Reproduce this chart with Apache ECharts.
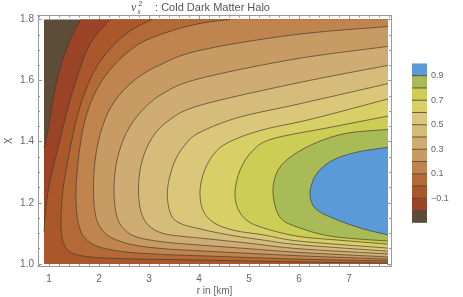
<!DOCTYPE html>
<html><head><meta charset="utf-8">
<script src="https://cdn.jsdelivr.net/npm/echarts@6/dist/echarts.min.js"></script>
<style>html,body{margin:0;padding:0;background:#fff}#c{width:463px;height:297px}</style>
</head><body><div id="c"></div>
<script>
// ---- data ----
const rRange = [0.9, 7.78];
const chiRange = [1.0, 1.8];
const levels = [-0.2, -0.1, 0.0, 0.1, 0.2, 0.3, 0.4, 0.5, 0.6, 0.7, 0.8, 0.9];
const bandColors = ['#5d4c38', '#9b4327', '#aa582b', '#b46a37', '#c0854f', '#c89a64', '#cfac73',
  '#d6bc7b', '#dbc77a', '#d8cf66', '#cbcd55', '#a9bb57', '#5a9ad8'];

const contourM02 = [[1.63,1.80],[1.47,1.75],[1.34,1.70],[1.22,1.64],[1.12,1.57],[1.03,1.49],[0.96,1.42],[0.90,1.38]];
const contourM01 = [[2.22,1.80],[1.82,1.72],[1.56,1.61],[1.36,1.50],[1.22,1.405],[1.09,1.32],[0.99,1.245],[0.93,1.17],[0.90,1.105]];
const contour00 = [[3.06,1.80],[2.6,1.76],[2.2,1.70],[1.9,1.63],[1.67,1.54],[1.5,1.44],[1.38,1.34],[1.28,1.245],[1.24,1.15],[1.26,1.09],[1.33,1.055],[1.5,1.033],[1.9,1.022],[2.6,1.017],[4.02,1.013],[6.0,1.007],[7.78,1.003]];
const contour01 = [[4.62,1.80],[4.02,1.787],[3.4,1.76],[2.8,1.72],[2.3,1.65],[1.95,1.57],[1.72,1.47],[1.6,1.36],[1.54,1.245],[1.56,1.16],[1.63,1.11],[1.75,1.08],[2.0,1.056],[2.5,1.04],[3.2,1.032],[4.02,1.027],[6.0,1.016],[7.78,1.01]];
const contour02 = [[7.78,1.777],[5.9,1.75],[4.02,1.699],[3.2,1.65],[2.7,1.60],[2.3,1.53],[2.07,1.45],[1.93,1.35],[1.89,1.245],[1.93,1.16],[2.05,1.115],[2.26,1.085],[2.7,1.062],[3.3,1.05],[4.02,1.043],[6.0,1.027],[7.78,1.016]];
const contour03 = [[7.78,1.712],[5.9,1.67],[4.02,1.607],[3.3,1.56],[2.85,1.50],[2.55,1.43],[2.36,1.34],[2.30,1.245],[2.35,1.16],[2.5,1.115],[2.76,1.088],[3.3,1.072],[4.02,1.062],[5.0,1.05],[6.0,1.038],[7.78,1.023]];
const contour04 = [[7.78,1.65],[5.9,1.59],[4.02,1.519],[3.4,1.47],[3.05,1.41],[2.85,1.33],[2.79,1.245],[2.84,1.17],[3.0,1.125],[3.28,1.1],[3.7,1.09],[4.02,1.085],[5.0,1.068],[6.0,1.05],[7.78,1.033]];
const contour05 = [[7.78,1.59],[5.9,1.52],[4.8,1.48],[4.02,1.431],[3.72,1.39],[3.5,1.33],[3.37,1.245],[3.42,1.17],[3.6,1.135],[4.02,1.115],[4.6,1.095],[5.3,1.078],[6.0,1.063],[7.78,1.042]];
const contour06 = [[7.78,1.54],[6.22,1.473],[5.3,1.44],[4.68,1.405],[4.35,1.37],[4.12,1.31],[4.02,1.24],[4.08,1.175],[4.3,1.135],[4.7,1.11],[5.3,1.095],[6.0,1.075],[7.78,1.052]];
const contour07 = [[7.78,1.484],[6.62,1.447],[5.48,1.41],[5.08,1.372],[4.82,1.307],[4.72,1.235],[4.78,1.18],[4.98,1.14],[5.35,1.115],[6.0,1.09],[6.8,1.078],[7.78,1.065]];
const contour08 = [[7.78,1.44],[6.96,1.428],[6.36,1.398],[5.88,1.356],[5.58,1.307],[5.48,1.235],[5.62,1.153],[6.02,1.118],[6.68,1.09],[7.78,1.075]];
const contour09 = [[7.78,1.382],[7.16,1.366],[6.68,1.34],[6.36,1.297],[6.22,1.235],[6.32,1.183],[6.68,1.15],[7.22,1.118],[7.78,1.095]];
const contours = [contourM02, contourM01, contour00, contour01, contour02, contour03, contour04,
  contour05, contour06, contour07, contour08, contour09];

const legendBounds = [-0.3,-0.2,-0.1,0.0,0.1,0.2,0.3,0.4,0.5,0.6,0.7,0.8,0.9,1.0];
const xTicks = [1,2,3,4,5,6,7];
const xMinorTicks = [0.8,1.2,1.4,1.6,1.8,2.2,2.4,2.6,2.8,3.2,3.4,3.6,3.8,4.2,4.4,4.6,4.8,5.2,5.4,5.6,5.8,6.2,6.4,6.6,6.8,7.2,7.4,7.6,7.8];
const yTicks = [1.0,1.2,1.4,1.6,1.8];
const yMinorTicks = [1.05,1.1,1.15,1.25,1.3,1.35,1.45,1.5,1.55,1.65,1.7,1.75];

// ---- helpers ----
function curvePath(pts) {
  let d = 'M' + pts[0][0] + ' ' + pts[0][1];
  for (let i = 0; i < pts.length - 1; i++) {
    const p0 = pts[i - 1] || pts[i], p1 = pts[i], p2 = pts[i + 1], p3 = pts[i + 2] || pts[i + 1];
    const c1 = [p1[0] + (p2[0] - p0[0]) / 6, p1[1] + (p2[1] - p0[1]) / 6];
    const c2 = [p2[0] - (p3[0] - p1[0]) / 6, p2[1] - (p3[1] - p1[1]) / 6];
    d += ' C' + c1[0] + ' ' + c1[1] + ' ' + c2[0] + ' ' + c2[1] + ' ' + p2[0] + ' ' + p2[1];
  }
  return d;
}
function closureCorners(line) {
  const s = line[0], e = line[line.length - 1];
  const out = [];
  const eq = (a, b) => Math.abs(a - b) < 1e-6;
  if (eq(e[0], rRange[0])) out.push([rRange[0], chiRange[0]], [rRange[1], chiRange[0]]);
  else if (eq(e[1], chiRange[0])) out.push([rRange[1], chiRange[0]]);
  if (eq(s[1], chiRange[1])) out.push([rRange[1], chiRange[1]]);
  return out;
}

const chart = echarts.init(document.getElementById('c'), null, {renderer: 'canvas'});
const frameColor = '#9a9a9a';
const labelColor = '#666';
const xMin = 0.78, xMax = 7.84, yMin = 0.9935, yMax = 1.813;

function xAx(pos, ticks, len, labels) {
  return {
    type: 'value', gridIndex: 0, min: xMin, max: xMax, position: pos,
    axisLine: {show: true, onZero: false, lineStyle: {color: frameColor, width: 1}},
    axisTick: {show: true, inside: true, length: len, customValues: ticks, lineStyle: {color: frameColor}},
    axisLabel: labels ? {show: true, customValues: xTicks, color: labelColor, fontSize: 10, margin: 8,
      fontFamily: 'Liberation Sans'} : {show: false},
    splitLine: {show: false}, minorTick: {show: false},
    name: labels ? 'r in [km]' : '', nameLocation: 'middle', nameGap: 20, nameMoveOverlap: false,
    nameTextStyle: {color: labelColor, fontSize: 10, fontFamily: 'Liberation Sans'}
  };
}
function yAx(pos, ticks, len, labels) {
  return {
    type: 'value', gridIndex: 0, min: yMin, max: yMax, position: pos,
    axisLine: {show: true, onZero: false, lineStyle: {color: frameColor, width: 1}},
    axisTick: {show: true, inside: true, length: len, customValues: ticks, lineStyle: {color: frameColor}},
    axisLabel: labels ? {show: true, customValues: yTicks, color: labelColor, fontSize: 10, margin: 4,
      fontFamily: 'Liberation Sans', formatter: v => v.toFixed(1)} : {show: false},
    splitLine: {show: false},
    name: labels ? 'χ' : '', nameLocation: 'middle', nameGap: 26, nameRotate: 90, nameMoveOverlap: false,
    nameTextStyle: {color: labelColor, fontSize: 11, fontFamily: 'Liberation Sans'}
  };
}

const option = {
  animation: false,
  backgroundColor: '#fff',
  grid: [{left: 38, top: 15.5, width: 353, height: 250.5, containLabel: false, outerBoundsMode: 'none'},
         {left: 412, top: 75.7, width: 15, height: 122.6, containLabel: false, outerBoundsMode: 'none'}],
  xAxis: [xAx('bottom', xTicks, 4, true), xAx('bottom', xMinorTicks, 2, false),
          xAx('top', xTicks, 4, false), xAx('top', xMinorTicks, 2, false),
          {type: 'value', gridIndex: 1, min: 0, max: 1, show: false}],
  yAxis: [yAx('left', yTicks, 4, true), yAx('left', yMinorTicks, 2, false),
          yAx('right', yTicks, 4, false), yAx('right', yMinorTicks, 2, false),
          {type: 'value', gridIndex: 1, min: -0.1, max: 0.9, interval: 0.2, position: 'right',
           axisLine: {show: false}, splitLine: {show: false},
           axisTick: {show: true, length: 5, lineStyle: {color: '#555'}},
           axisLabel: {color: labelColor, fontSize: 9, margin: 4, fontFamily: 'Liberation Sans',
             formatter: v => (v < 0 ? '\u2212' : '') + Math.abs(v).toFixed(1)}}],
  graphic: [
    {type: 'text', x: 131, y: 8, style: {text: 'v', font: 'italic 12px "Liberation Serif"', fill: '#555', verticalAlign: 'middle'}},
    {type: 'text', x: 138.5, y: 4, style: {text: '2', font: '7px "Liberation Sans"', fill: '#555', verticalAlign: 'middle'}},
    {type: 'text', x: 137.5, y: 11.5, style: {text: 's', font: 'italic 8px "Liberation Serif"', fill: '#555', verticalAlign: 'middle'}},
    {type: 'text', x: 152, y: 8, style: {text: ' : Cold Dark Matter Halo', font: '11px "Liberation Sans"', fill: '#555', verticalAlign: 'middle'}}
  ],
  series: [
    {
      type: 'custom', xAxisIndex: 0, yAxisIndex: 0, z: 1, data: [0], clip: true,
      renderItem: (p, api) => {
        const a = api.coord([rRange[0], chiRange[1]]), b = api.coord([rRange[1], chiRange[0]]);
        return {type: 'rect', shape: {x: a[0], y: a[1], width: b[0] - a[0], height: b[1] - a[1]},
                style: {fill: bandColors[0]}};
      }
    },
    {
      type: 'custom', xAxisIndex: 0, yAxisIndex: 0, z: 2, clip: true,
      data: levels.map((l, i) => i),
      renderItem: (p, api) => {
        const i = p.dataIndex;
        const line = contours[i];
        const pts = line.map(q => api.coord(q));
        let d = curvePath(pts);
        closureCorners(line).forEach(c => { const q = api.coord(c); d += ' L' + q[0] + ' ' + q[1]; });
        d += ' Z';
        return {type: 'path', z2: i + 1, shape: {pathData: d}, style: {fill: bandColors[i + 1], stroke: null}};
      }
    },
    {
      type: 'custom', xAxisIndex: 0, yAxisIndex: 0, z: 3, clip: true,
      data: levels.map((l, i) => i),
      renderItem: (p, api) => {
        const pts = contours[p.dataIndex].map(q => api.coord(q));
        return {type: 'path', shape: {pathData: curvePath(pts)},
                style: {fill: 'none', stroke: '#43382a', lineWidth: 0.8, opacity: 0.85}};
      }
    },
    {
      type: 'custom', xAxisIndex: 4, yAxisIndex: 4, z: 2,
      data: bandColors.map((c, i) => [legendBounds[i], legendBounds[i + 1]]),
      renderItem: (p, api) => {
        const i = p.dataIndex;
        const a = api.coord([0, api.value(1)]), b = api.coord([1, api.value(0)]);
        const children = [{type: 'rect', shape: {x: a[0], y: a[1], width: b[0] - a[0], height: b[1] - a[1]},
                           style: {fill: bandColors[i]}}];
        if (i > 0) children.push({type: 'line', shape: {x1: a[0], y1: b[1], x2: b[0], y2: b[1]},
                                  style: {stroke: '#4a3b2b', lineWidth: 0.8}});
        return {type: 'group', children};
      }
    }
  ]
};
chart.setOption(option);
</script></body></html>
